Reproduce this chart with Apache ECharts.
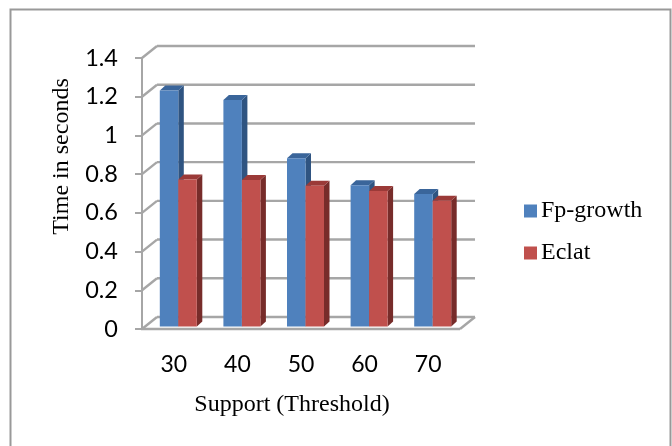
<!DOCTYPE html>
<html><head><meta charset="utf-8">
<style>html,body{margin:0;padding:0;background:#fff}#c{width:672px;height:446px}</style>
<script src="https://cdn.jsdelivr.net/npm/echarts@6/dist/echarts.min.js"></script>
</head><body><div id="c"></div>
<script>
const categories = ['30','40','50','60','70'];
const fpGrowth = [1.22,1.17,0.87,0.73,0.685];
const eclat = [0.76,0.757,0.727,0.70,0.65];
const yTicks = [0,0.2,0.4,0.6,0.8,1,1.2,1.4];
const DX=15, DY=12, BW=18.5, SX=5.5, SY=5, OX=4.5, OY=2.4;
const GRID='#a6a6a6';
function barRender(sign, front, side, top){
  return function(params, api){
    const i=api.value(0), v=api.value(1);
    const base=api.coord([i,0]), t=api.coord([i,v]);
    const x0=base[0]+OX+(sign<0?-BW:0), x1=x0+BW, yb=base[1]-OY, yt=t[1]-OY;
    return {type:'group',children:[
      {type:'polygon',shape:{points:[[x1,yb],[x1+SX,yb-SY],[x1+SX,yt-SY],[x1,yt]]},style:{fill:side}},
      {type:'polygon',shape:{points:[[x0,yt],[x1,yt],[x1+SX,yt-SY],[x0+SX,yt-SY]]},style:{fill:top}},
      {type:'rect',shape:{x:x0,y:yt,width:BW,height:yb-yt},style:{fill:front}}
    ]};
  };
}
const chart=echarts.init(document.getElementById('c'),null,{renderer:'canvas'});
chart.setOption({
  animation:false,
  backgroundColor:'#fff',
  graphic:[{type:'rect',silent:true,z:-1,shape:{x:10.5,y:9.5,width:660,height:470},style:{fill:'none',stroke:'#999',lineWidth:2}}],
  grid:{left:142,right:212,top:58,height:271,containLabel:false},
  legend:{left:519,top:194,orient:'vertical',itemWidth:13,itemHeight:13,itemGap:18,icon:'rect',
    textStyle:{fontFamily:'Liberation Serif',fontSize:24,color:'#000',padding:[0,0,0,-1]},
    data:['Fp-growth','Eclat']},
  xAxis:{type:'category',data:categories,
    axisLine:{show:false},axisTick:{show:false},
    axisLabel:{fontFamily:'Lato',fontSize:23,color:'#000',margin:24},
    name:'Support (Threshold)',nameLocation:'middle',nameGap:64,
    nameTextStyle:{fontFamily:'Liberation Serif',fontSize:24,color:'#000',padding:[0,18,0,0]}},
  yAxis:{type:'value',min:0,max:1.4,interval:0.2,
    axisLine:{show:true,lineStyle:{color:GRID,width:2}},
    axisTick:{show:true,length:7,lineStyle:{color:GRID,width:2}},
    splitLine:{show:false},
    axisLabel:{fontFamily:'Lato',fontSize:23.5,color:'#000',margin:24,formatter:v=>String(v)},
    name:'Time in seconds',nameLocation:'middle',nameGap:68,
    nameTextStyle:{fontFamily:'Liberation Serif',fontSize:24,color:'#000',padding:[0,0,0,74]}},
  series:[
    {type:'custom',name:'walls',silent:true,z:1,legendHoverLink:false,
     data:yTicks.map(v=>[0,v]),
     renderItem(params,api){
       const v=api.value(1);
       const a=api.coord([0,v]); const left=params.coordSys.x, right=left+params.coordSys.width;
       const y=a[1];
       const ls={stroke:GRID,lineWidth:2.4,fill:'none'};
       const kids=[
         {type:'line',shape:{x1:left,y1:y,x2:left+DX,y2:y-DY},style:ls},
         {type:'line',shape:{x1:left+DX,y1:y-DY,x2:right+DX,y2:y-DY},style:ls}
       ];
       if(v===0){
         kids.push({type:'line',shape:{x1:left-1,y1:y,x2:right,y2:y},style:ls});
         kids.push({type:'line',shape:{x1:right,y1:y,x2:right+DX,y2:y-DY},style:ls});
       }
       return {type:'group',children:kids};
     }},
    {type:'custom',name:'Fp-growth',z:2,itemStyle:{color:'#4F81BD'},
     data:fpGrowth.map((v,i)=>[i,v]),encode:{x:0,y:1},
     renderItem:barRender(-1,'#4F81BD','#2F5481','#3A659A')},
    {type:'custom',name:'Eclat',z:3,itemStyle:{color:'#C0504D'},
     data:eclat.map((v,i)=>[i,v]),encode:{x:0,y:1},
     renderItem:barRender(1,'#C0504D','#772C2A','#9B3A38')}
  ]
});
</script></body></html>
